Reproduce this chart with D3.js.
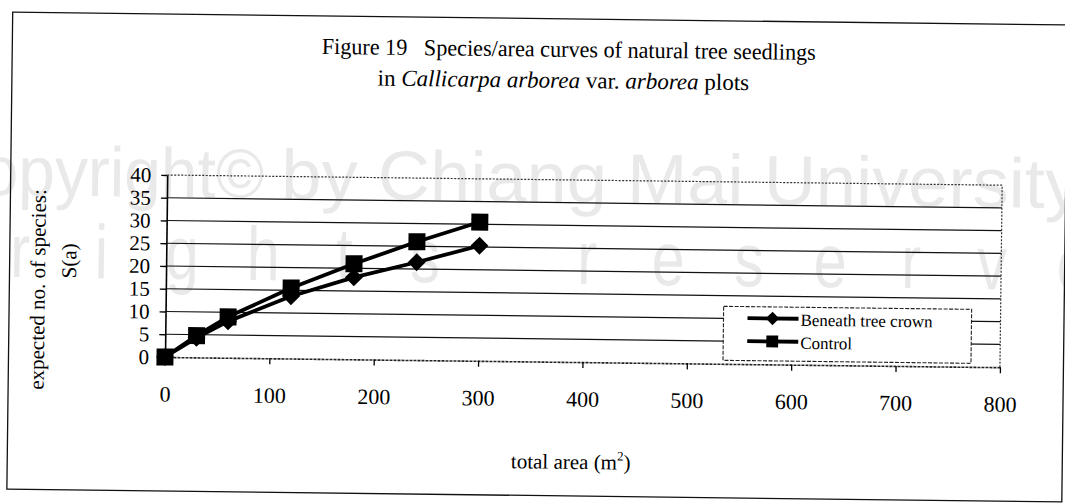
<!DOCTYPE html>
<html>
<head>
<meta charset="utf-8">
<script src="https://cdn.jsdelivr.net/npm/d3@7"></script>
<style>
  body { margin: 0; background: #fff; }
  svg { display: block; }
</style>
</head>
<body>
<svg id="chart" width="1065" height="503"></svg>
<script>
// values
var areas = [0, 30, 60, 120, 180, 240, 300];
var beneath = [0, 4.3, 8, 13.7, 18, 21.5, 25.3];
var control = [0, 4.8, 9, 15.5, 21, 26, 30.5];
var seriesNames = ["Beneath tree crown", "Control"];
var xTicks = [0, 100, 200, 300, 400, 500, 600, 700, 800];
var yTicks = [0, 5, 10, 15, 20, 25, 30, 35, 40];

var serif = "'Liberation Serif','Times New Roman',Times,serif";
var svg = d3.select("#chart");

// the page was scanned a little crooked, so everything sits in a slightly rotated group
var root = svg.append("g").attr("transform", "rotate(0.7,165,357)");

// faint watermark of the scan
var wm = root.append("g").attr("fill", "#e9e9e9").attr("font-family", "'Liberation Sans',Arial,sans-serif");
wm.append("text").attr("x", 262).attr("y", 197).attr("text-anchor", "end")
  .attr("font-size", 70).attr("textLength", 330).attr("lengthAdjust", "spacingAndGlyphs")
  .text("Copyright\u00a9");
wm.append("text").attr("x", 279).attr("y", 197)
  .attr("font-size", 70).attr("textLength", 800).attr("lengthAdjust", "spacingAndGlyphs")
  .text("by Chiang Mai University");
wm.selectAll("text.ch").data("All rights reserved".split("")).enter().append("text")
  .attr("class", "ch")
  .attr("text-anchor", "middle")
  .attr("font-size", 76)
  .attr("transform", function(d, i) { return "translate(" + (-305 + i * 81) + ",279) scale(0.78,1)"; })
  .text(function(d) { return d; });

// outer chart border
root.append("rect").attr("x", 8.5).attr("y", 14).attr("width", 1055).attr("height", 477)
  .attr("fill", "none").attr("stroke", "#111").attr("stroke-width", 1.3);

// title
var title = root.append("g").attr("font-family", serif).attr("font-size", 23).attr("fill", "#000")
  .attr("text-anchor", "middle");
title.append("text").attr("x", 565).attr("y", 52).attr("xml:space", "preserve")
  .attr("textLength", 494).attr("lengthAdjust", "spacingAndGlyphs")
  .text("Figure 19   Species/area curves of natural tree seedlings");
var t2 = title.append("text").attr("x", 560).attr("y", 83);
t2.append("tspan").text("in ");
t2.append("tspan").attr("font-style", "italic").text("Callicarpa arborea");
t2.append("tspan").text(" var. ");
t2.append("tspan").attr("font-style", "italic").text("arborea");
t2.append("tspan").text(" plots");

var x = d3.scaleLinear().domain([0, 800]).range([165, 1000]);
var y = d3.scaleLinear().domain([0, 40]).range([357, 175]);

// gridlines
root.append("g").selectAll("line").data(yTicks.filter(function(d) { return d > 0 && d < 40; }))
  .enter().append("line")
  .attr("x1", x(0)).attr("x2", x(800))
  .attr("y1", function(d) { return y(d); }).attr("y2", function(d) { return y(d); })
  .attr("stroke", "#111").attr("stroke-width", 1.2);

// dotted plot-area border top and right
root.append("path")
  .attr("d", "M" + x(0) + "," + y(40) + "H" + x(800) + "V" + y(0))
  .attr("fill", "none").attr("stroke", "#333").attr("stroke-width", 1.2).attr("stroke-dasharray", "2,1.5");

// axes
var gx = root.append("g").attr("transform", "translate(0," + y(0) + ")")
  .call(d3.axisBottom(x).tickValues(xTicks).tickSize(6).tickSizeOuter(0).tickPadding(23));
gx.select(".domain").attr("stroke", "#222").attr("stroke-width", 1.6).attr("stroke-dasharray", "3,1");
gx.selectAll(".tick line").attr("stroke", "#000").attr("stroke-width", 1.3);
gx.selectAll("text").attr("font-family", serif).attr("font-size", 22).attr("fill", "#000");

var gy = root.append("g").attr("transform", "translate(" + x(0) + ",0)")
  .call(d3.axisLeft(y).tickValues(yTicks).tickSize(6).tickSizeOuter(0).tickPadding(10));
gy.select(".domain").attr("stroke", "#000").attr("stroke-width", 1.6);
gy.selectAll(".tick line").attr("stroke", "#000").attr("stroke-width", 1.3);
gy.selectAll("text").attr("font-family", serif).attr("font-size", 21).attr("fill", "#000");

// axis titles
var ytl = root.append("g").attr("font-family", serif).attr("font-size", 21).attr("fill", "#000")
  .attr("text-anchor", "middle");
ytl.append("text").attr("transform", "translate(44,291) rotate(-90)").text("expected no. of species:");
ytl.append("text").attr("transform", "translate(75,262) rotate(-90)").text("S(a)");

var xt = root.append("text").attr("x", 572).attr("y", 464).attr("text-anchor", "middle")
  .attr("font-family", serif).attr("font-size", 21).attr("fill", "#000");
xt.append("tspan").text("total area (m");
xt.append("tspan").attr("font-size", 13).attr("dy", -9).text("2");
xt.append("tspan").attr("dy", 9).text(")");

// series
var line = d3.line()
  .x(function(d, i) { return x(areas[i]); })
  .y(function(d) { return y(d); });

var diamond = d3.symbol().type(d3.symbolSquare).size(160);
var square = d3.symbol().type(d3.symbolSquare).size(289);

root.append("path").datum(beneath).attr("d", line)
  .attr("fill", "none").attr("stroke", "#000").attr("stroke-width", 3.8).attr("stroke-linejoin", "round");
root.append("g").selectAll("path").data(beneath).enter().append("path")
  .attr("d", diamond)
  .attr("transform", function(d, i) { return "translate(" + x(areas[i]) + "," + y(d) + ") rotate(45)"; })
  .attr("fill", "#000");

root.append("path").datum(control).attr("d", line)
  .attr("fill", "none").attr("stroke", "#000").attr("stroke-width", 3.8).attr("stroke-linejoin", "round");
root.append("g").selectAll("path").data(control).enter().append("path")
  .attr("d", square)
  .attr("transform", function(d, i) { return "translate(" + x(areas[i]) + "," + y(d) + ")"; })
  .attr("fill", "#000");

// legend
var lg = root.append("g");
lg.append("rect").attr("x", 723).attr("y", 299.5).attr("width", 248).attr("height", 54)
  .attr("fill", "#fff").attr("stroke", "#222").attr("stroke-width", 1.1).attr("stroke-dasharray", "4,1.5");
var rows = lg.selectAll("g.row").data(seriesNames).enter().append("g").attr("class", "row")
  .attr("transform", function(d, i) { return "translate(0," + (311 + i * 23) + ")"; });
rows.append("line").attr("x1", 747).attr("x2", 798).attr("stroke", "#000").attr("stroke-width", 3.8);
rows.append("path")
  .attr("d", function(d, i) { return i === 0 ? d3.symbol().type(d3.symbolSquare).size(90)() : d3.symbol().type(d3.symbolSquare).size(140)(); })
  .attr("transform", function(d, i) { return "translate(772,0)" + (i === 0 ? " rotate(45)" : ""); })
  .attr("fill", "#000");
rows.append("text").attr("x", 800).attr("y", 7)
  .attr("font-family", serif).attr("font-size", 17).attr("fill", "#000")
  .text(function(d) { return d; });
</script>
</body>
</html>
